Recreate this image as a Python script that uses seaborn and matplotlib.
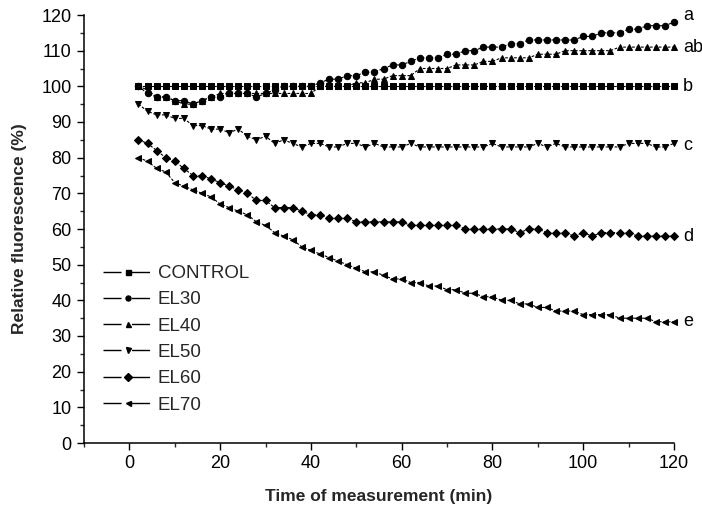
import numpy as np
import pandas as pd
import matplotlib
matplotlib.use("Agg")
import matplotlib.pyplot as plt
from matplotlib.lines import Line2D
from matplotlib.ticker import MultipleLocator
import seaborn as sns

# ---- data ----
time_min = list(range(2, 122, 2))

control = [100] * 60
el30 = [100, 98, 97, 97, 96, 96, 95, 96, 97, 97,
        98, 98, 98, 97, 98, 99, 100, 100, 100, 100,
        101, 102, 102, 103, 103, 104, 104, 105, 106, 106,
        107, 108, 108, 108, 109, 109, 110, 110, 111, 111,
        111, 112, 112, 113, 113, 113, 113, 113, 113, 114,
        114, 115, 115, 115, 116, 116, 117, 117, 117, 118]
el40 = [100, 99, 97, 97, 96, 95, 95, 96, 97, 98,
        98, 98, 98, 98, 98, 98, 98, 98, 98, 98,
        100, 100, 100, 100, 101, 101, 102, 102, 103, 103,
        103, 105, 105, 105, 105, 106, 106, 106, 107, 107,
        108, 108, 108, 108, 109, 109, 109, 110, 110, 110,
        110, 110, 110, 111, 111, 111, 111, 111, 111, 111]
el50 = [95, 93, 92, 92, 91, 91, 89, 89, 88, 88,
        87, 88, 86, 85, 86, 84, 85, 84, 83, 84,
        84, 83, 83, 84, 84, 83, 84, 83, 83, 83,
        84, 83, 83, 83, 83, 83, 83, 83, 83, 84,
        83, 83, 83, 83, 84, 83, 84, 83, 83, 83,
        83, 83, 83, 83, 84, 84, 84, 83, 83, 84]
el60 = [85, 84, 82, 80, 79, 77, 75, 75, 74, 73,
        72, 71, 70, 68, 68, 66, 66, 66, 65, 64,
        64, 63, 63, 63, 62, 62, 62, 62, 62, 62,
        61, 61, 61, 61, 61, 61, 60, 60, 60, 60,
        60, 60, 59, 60, 60, 59, 59, 59, 58, 59,
        58, 59, 59, 59, 59, 58, 58, 58, 58, 58]
el70 = [80, 79, 77, 76, 73, 72, 71, 70, 69, 67,
        66, 65, 64, 62, 61, 59, 58, 57, 55, 54,
        53, 52, 51, 50, 49, 48, 48, 47, 46, 46,
        45, 45, 44, 44, 43, 43, 42, 42, 41, 41,
        40, 40, 39, 39, 38, 38, 37, 37, 37, 36,
        36, 36, 36, 35, 35, 35, 35, 34, 34, 34]

series_names = ["CONTROL", "EL30", "EL40", "EL50", "EL60", "EL70"]
series_values = [control, el30, el40, el50, el60, el70]
end_labels = ["a", "ab", "b", "c", "d", "e"]
end_label_y = [120, 111, 100, 83.5, 58, 34]
x_ticks = [0, 20, 40, 60, 80, 100, 120]
y_ticks = list(range(0, 130, 10))

# ---- styling ----
sns.set_theme(style="ticks")
plt.rcParams["font.family"] = ["Liberation Sans", "DejaVu Sans"]
plt.rcParams["lines.scale_dashes"] = False

marker_map = {"CONTROL": "s", "EL30": "o", "EL40": "^",
              "EL50": "v", "EL60": "D", "EL70": "<"}
marker_size = {"CONTROL": 4.2, "EL30": 4.6, "EL40": 5.0,
               "EL50": 5.0, "EL60": 4.4, "EL70": 5.0}

df = pd.DataFrame({
    "time": np.tile(time_min, len(series_names)),
    "value": np.concatenate(series_values),
    "series": np.repeat(series_names, len(time_min)),
})

fig = plt.figure(figsize=(7.02, 5.19), dpi=100)
ax = fig.add_axes([84 / 702, 1 - 443 / 519, (674 - 84) / 702, (443 - 15) / 519])

for name in series_names:
    sub = df[df["series"] == name]
    sns.lineplot(data=sub, x="time", y="value", ax=ax, color="black",
                 marker=marker_map[name], markersize=marker_size[name],
                 markeredgecolor="black", markerfacecolor="black",
                 linewidth=0.8, dashes=False, legend=False, clip_on=False)
for line in ax.get_lines():
    line.set_dashes((2.0, 1.2))

ax.set_xlim(-10, 120)
ax.set_ylim(0, 120)
ax.set_xticks(x_ticks)
ax.set_yticks(y_ticks)
ax.xaxis.set_minor_locator(MultipleLocator(10))
ax.yaxis.set_minor_locator(MultipleLocator(5))
ax.tick_params(axis="both", which="major", direction="out", length=5,
               width=1, labelsize=13, colors="black", pad=4)
ax.tick_params(axis="both", which="minor", direction="out", length=3, width=1)
for s in ["top", "right"]:
    ax.spines[s].set_visible(False)
for s in ["left", "bottom"]:
    ax.spines[s].set_linewidth(1.1)
    ax.spines[s].set_color("black")

ax.set_xlabel("Time of measurement (min)", fontsize=12.5, fontweight="bold",
              labelpad=12, family=["Liberation Sans Narrow", "Liberation Sans"])
ax.set_ylabel("Relative fluorescence (%)", fontsize=12.5, fontweight="bold",
              labelpad=10, family=["Liberation Sans Narrow", "Liberation Sans"])

for lab, yv in zip(end_labels, end_label_y):
    ax.text(122, yv, lab, fontsize=13, ha="left", va="center",
            color="black", clip_on=False)

handles = [Line2D([], [], color="black", linewidth=1.0,
                  marker=marker_map[n], markersize=3.6,
                  dashes=(13, 7.5)) for n in series_names]
leg = ax.legend(handles, series_names, loc="lower left",
                bbox_to_anchor=(0.02, 0.051), frameon=False, fontsize=13.5,
                handlelength=2.6, handletextpad=0.3, labelspacing=0.49,
                borderaxespad=0.0)

fig.savefig("out.png", dpi=100)
